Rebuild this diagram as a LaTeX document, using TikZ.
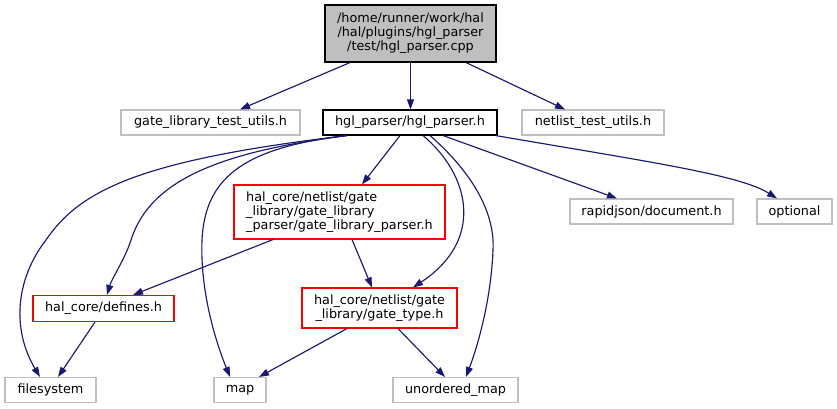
\documentclass[tikz,border=0pt]{standalone}
\usepackage{fontspec}
\setmainfont{DejaVu Sans}
\usetikzlibrary{arrows.meta}
\definecolor{edgeblue}{HTML}{191970}
\definecolor{grayseventyfive}{HTML}{BFBFBF}
\definecolor{boxred}{HTML}{FF0000}
\begin{document}
\begin{tikzpicture}[x=1pt,y=-1pt,
  box/.style={draw, line width=1.1pt, inner sep=0pt, font=\fontsize{12.8}{14}\selectfont, text=black},
  grayb/.style={box, draw=grayseventyfive},
  redb/.style={box, draw=boxred},
  blackb/.style={box, draw=black},
  edge/.style={draw=edgeblue, line width=1.15pt, -{Triangle[length=10pt,width=7pt]}}]
\useasboundingbox (0,0) rectangle (837,409);
% nodes
\node[blackb, fill=grayseventyfive, minimum width=171pt, minimum height=57pt, align=center] (root) at (410.5,33.5)
  {/home/runner/work/hal\\/hal/plugins/hgl\_parser\\/test/hgl\_parser.cpp};
\node[grayb, minimum width=179pt, minimum height=25pt] (gltu) at (210.5,122.5) {gate\_library\_test\_utils.h};
\node[blackb, minimum width=174pt, minimum height=25pt] (hgl) at (410,122.5) {hgl\_parser/hgl\_parser.h};
\node[grayb, minimum width=142pt, minimum height=25pt] (ntu) at (593,122.5) {netlist\_test\_utils.h};
\node[redb, minimum width=211pt, minimum height=54pt, align=left] (glp) at (339.5,212)
  {hal\_core/netlist/gate\\\_library/gate\_library\\\_parser/gate\_library\_parser.h};
\node[grayb, minimum width=163pt, minimum height=25pt] (rj) at (651.5,211.5) {rapidjson/document.h};
\node[grayb, minimum width=75pt, minimum height=25pt] (opt) at (794.5,211.5) {optional};
\node[redb, minimum width=141pt, minimum height=26pt] (def) at (103.5,308.5) {hal\_core/defines.h};
\node[redb, minimum width=155pt, minimum height=40pt, align=center] (gt) at (379.5,308)
  {hal\_core/netlist/gate\\\_library/gate\_type.h};
\node[grayb, minimum width=91pt, minimum height=25pt] (fs) at (50.5,390) {filesystem};
\node[grayb, minimum width=52pt, minimum height=25pt] (map) at (240,390) {map};
\node[grayb, minimum width=125pt, minimum height=25pt] (um) at (455.5,390) {unordered\_map};
% edges from root
\draw[edge] ([xshift=-60.5pt]root.south) -- ([xshift=29.5pt]gltu.north);
\draw[edge] (root.south) -- (root.south |- hgl.north);
\draw[edge] ([xshift=55.5pt]root.south) -- ([xshift=-28pt]ntu.north);
% edges from hgl
\draw[edge] ([xshift=-10pt]hgl.south) -- ([xshift=22.5pt]glp.north);
\draw[edge] ([xshift=33pt]hgl.south) -- ([xshift=-34.5pt]rj.north);
\draw[edge] ([xshift=-2pt]hgl.south east) .. controls (650,162) and (740,175) .. ([xshift=-17.5pt]opt.north);
\draw[edge] ([xshift=-63pt]hgl.south) .. controls (140,160) and (80,190) .. (46,240)
  .. controls (15,280) and (12,330) .. ([xshift=-10.5pt]fs.north);
\draw[edge] ([xshift=-63pt]hgl.south) .. controls (220,152) and (150,180) .. (131,240)
  .. controls (125,259) and (112,278) .. ([xshift=3.5pt]def.north);
\draw[edge] ([xshift=-63pt]hgl.south) .. controls (240,148) and (205,180) .. (202,240)
  .. controls (200,290) and (215,340) .. ([xshift=-10pt]map.north);
\draw[edge] ([xshift=13pt]hgl.south) .. controls (470,175) and (485,240) .. ([xshift=33.5pt]gt.north);
\draw[edge] ([xshift=20pt]hgl.south) .. controls (475,175) and (495,215) .. (493,250)
  .. controls (491,300) and (478,345) .. ([xshift=10.5pt]um.north);
% other edges
\draw[edge] ([xshift=-66.5pt]glp.south) -- ([xshift=29.5pt]def.north);
\draw[edge] ([xshift=12.5pt]glp.south) -- ([xshift=-7.5pt]gt.north);
\draw[edge] ([xshift=-8.5pt]def.south) -- ([xshift=7.5pt]fs.north);
\draw[edge] ([xshift=-32.5pt]gt.south) -- ([xshift=19pt]map.north);
\draw[edge] ([xshift=18.5pt]gt.south) -- ([xshift=-10.5pt]um.north);
\end{tikzpicture}
\end{document}
